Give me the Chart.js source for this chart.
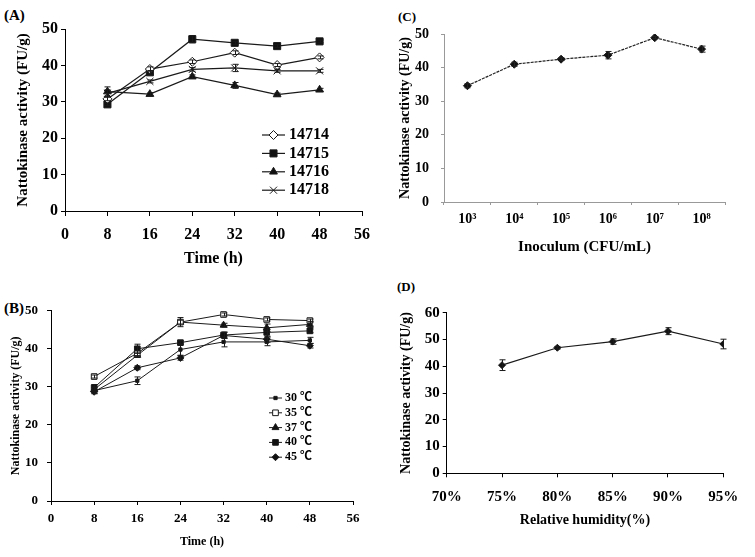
<!DOCTYPE html>
<html><head><meta charset="utf-8">
<script src="https://cdn.jsdelivr.net/npm/chart.js@4.4.1/dist/chart.umd.min.js"></script>
<style>
html,body{margin:0;padding:0;background:#fff;width:755px;height:557px;overflow:hidden;position:relative;}
canvas{position:absolute;}
.lbl{position:absolute;font-family:'Liberation Serif','Times New Roman',serif;font-weight:bold;color:#000;line-height:1;white-space:nowrap;}
</style></head><body>
<div class="lbl" style="left:4px;top:8px;font-size:15px">(A)</div>
<div class="lbl" style="left:398px;top:10px;font-size:13px">(C)</div>
<div class="lbl" style="left:4px;top:301px;font-size:15px">(B)</div>
<div class="lbl" style="left:397px;top:280px;font-size:13px">(D)</div>
<canvas id="cA" width="380" height="270" style="left:0;top:0"></canvas>
<canvas id="cC" width="375" height="270" style="left:380px;top:0"></canvas>
<canvas id="cB" width="380" height="287" style="left:0;top:270px"></canvas>
<canvas id="cD" width="375" height="287" style="left:380px;top:270px"></canvas>
<script>
// ---------- data ----------
const timeHours = [8, 16, 24, 32, 40, 48];

const strainNames = ['14714', '14715', '14716', '14718'];
const strain14714 = [30.8, 39.0, 41.0, 43.5, 40.1, 42.2];
const strain14715 = [29.3, 38.1, 47.2, 46.2, 45.3, 46.6];
const strain14716 = [32.8, 32.1, 36.9, 34.5, 32.0, 33.3];
const strain14718 = [32.3, 35.6, 38.9, 39.3, 38.5, 38.5];
const err14714 = [0.5, 0.6, 0.5, 0.5, 0.4, 0.4];
const err14715 = [0.4, 0.5, 1.0, 0.4, 0.4, 0.4];
const err14716 = [1.3, 0.4, 0.5, 0.8, 0.4, 0.4];
const err14718 = [1.0, 0.4, 0.5, 1.0, 0.4, 0.4];

const tempNames = ['30 ℃', '35 ℃', '37 ℃', '40 ℃', '45 ℃'];
const temp30 = [29.0, 31.6, 39.8, 41.8, 41.8, 42.2];
const temp35 = [32.7, 38.8, 47.0, 49.0, 47.7, 47.4];
const temp37 = [29.3, 38.3, 47.0, 46.2, 45.5, 46.4];
const temp40 = [29.8, 40.0, 41.6, 43.6, 44.3, 44.7];
const temp45 = [28.7, 35.0, 37.6, 43.5, 42.5, 40.8];
const errT30 = [0.8, 1.0, 1.5, 1.3, 1.0, 0.8];
const errT35 = [0.4, 0.6, 0.5, 0.4, 0.4, 0.4];
const errT37 = [0.6, 0.6, 1.2, 0.5, 1.0, 0.8];
const errT40 = [0.8, 1.2, 0.5, 0.8, 1.2, 0.5];
const errT45 = [0.5, 0.5, 0.6, 0.8, 0.8, 0.6];

const inoculumLabels = ['10³', '10⁴', '10⁵', '10⁶', '10⁷', '10⁸'];
const inoculumActivity = [34.6, 41.0, 42.5, 43.7, 48.9, 45.5];
const inoculumErr = [0.6, 0.6, 0.4, 1.1, 0.3, 0.9];

const humidity = [75, 80, 85, 90, 95];
const humidityActivity = [40.4, 46.9, 49.2, 53.1, 48.3];
const humidityErr = [2.0, 0.5, 1.0, 1.3, 1.8];

// ---------- helpers ----------
const SERIF = "'Liberation Serif','Times New Roman','Noto Sans CJK SC',serif";
Chart.defaults.font.family = SERIF;
Chart.defaults.font.weight = 'bold';
Chart.defaults.color = '#000';

function pts(xs, ys) { return xs.map((x, i) => ({ x: x, y: ys[i] })); }

function drawMarker(ctx, style, r, x, y, fill, stroke, bw) {
  ctx.save();
  ctx.lineWidth = bw || 1; ctx.fillStyle = fill; ctx.strokeStyle = stroke;
  ctx.beginPath();
  if (style === 'rect') {
    const s = r * Math.SQRT1_2;
    ctx.rect(x - s, y - s, 2 * s, 2 * s);
    ctx.fill(); ctx.stroke();
  } else if (style === 'rectRot') {
    ctx.moveTo(x - r, y); ctx.lineTo(x, y - r); ctx.lineTo(x + r, y); ctx.lineTo(x, y + r); ctx.closePath();
    ctx.fill(); ctx.stroke();
  } else if (style === 'triangle') {
    const a = Math.sin(Math.PI / 3) * r;
    ctx.moveTo(x, y - r); ctx.lineTo(x + a, y + r / 2); ctx.lineTo(x - a, y + r / 2); ctx.closePath();
    ctx.fill(); ctx.stroke();
  } else if (style === 'crossRot') {
    const d = Math.SQRT1_2 * r;
    ctx.moveTo(x - d, y - d); ctx.lineTo(x + d, y + d); ctx.moveTo(x - d, y + d); ctx.lineTo(x + d, y - d);
    ctx.stroke();
  } else {
    ctx.arc(x, y, r, 0, Math.PI * 2); ctx.fill(); ctx.stroke();
  }
  ctx.restore();
}

const errorBarPlugin = {
  id: 'errorBars',
  afterDatasetsDraw(chart, args, opts) {
    const ctx = chart.ctx, ys = chart.scales.y;
    const cap = (opts && opts.cap) || 3;
    chart.data.datasets.forEach((ds, di) => {
      if (!ds.errors) return;
      const meta = chart.getDatasetMeta(di);
      ctx.save();
      ctx.strokeStyle = ds.borderColor; ctx.lineWidth = 1;
      meta.data.forEach((pt, i) => {
        const raw = ds.data[i];
        const v = (typeof raw === 'object') ? raw.y : raw;
        const e = ds.errors[i];
        if (!e) return;
        const top = ys.getPixelForValue(v + e), bot = ys.getPixelForValue(v - e);
        const x = Math.round(pt.x) + 0.5;
        ctx.beginPath();
        ctx.moveTo(x, top); ctx.lineTo(x, bot);
        ctx.moveTo(x - cap, top); ctx.lineTo(x + cap, top);
        ctx.moveTo(x - cap, bot); ctx.lineTo(x + cap, bot);
        ctx.stroke();
      });
      ctx.restore();
    });
  }
};

const lineLegendPlugin = {
  id: 'lineLegend',
  afterDraw(chart, args, opts) {
    if (!opts || !opts.show) return;
    const ctx = chart.ctx;
    ctx.save();
    ctx.font = 'bold ' + opts.fontSize + 'px ' + SERIF;
    ctx.textBaseline = 'middle'; ctx.textAlign = 'left'; ctx.fillStyle = '#000';
    chart.data.datasets.forEach((ds, i) => {
      const y = opts.y + i * opts.dy;
      ctx.strokeStyle = ds.borderColor; ctx.lineWidth = ds.borderWidth;
      ctx.beginPath(); ctx.moveTo(opts.x, y); ctx.lineTo(opts.x + opts.len, y); ctx.stroke();
      drawMarker(ctx, ds.pointStyle, ds.pointRadius, opts.x + opts.len / 2, y, ds.pointBackgroundColor, ds.pointBorderColor, ds.pointBorderWidth);
      ctx.fillText(ds.label, opts.x + opts.len + opts.gap, y);
    });
    ctx.restore();
  }
};

function ds(label, xs, ys, errs, style, r, fill, extra) {
  return Object.assign({
    label: label, data: xs ? pts(xs, ys) : ys, errors: errs,
    borderColor: '#1a1a1a', borderWidth: 1.2,
    pointStyle: style, pointRadius: r, pointBackgroundColor: fill,
    pointBorderColor: '#1a1a1a', pointBorderWidth: 1, pointHoverRadius: r,
    tension: 0, fill: false
  }, extra || {});
}

function axis(o) {
  const ticks = { font: { size: o.tickSize }, padding: o.tickPad, autoSkip: false, maxRotation: 0 };
  if (o.step !== undefined) ticks.stepSize = o.step;
  if (o.cb) ticks.callback = o.cb;
  const a = {
    type: o.type || 'linear',
    offset: !!o.offset,
    ticks: ticks,
    grid: { drawOnChartArea: false, drawTicks: true, tickLength: o.tickLen, color: o.color, offset: !!o.offset, lineWidth: 1 },
    border: { display: true, color: o.color, width: 1 },
    title: { display: true, text: o.title, font: { size: o.titleSize }, padding: o.titlePad, color: '#000' },
    afterFit: o.fit
  };
  if (o.min !== undefined) a.min = o.min;
  if (o.max !== undefined) a.max = o.max;
  return a;
}

const common = (pad, legendOpts, xAxis, yAxis) => ({
  responsive: false, animation: false, maintainAspectRatio: false,
  layout: { padding: pad },
  plugins: { legend: { display: false }, tooltip: { enabled: false }, lineLegend: legendOpts || { show: false }, errorBars: { cap: 3 } },
  scales: { x: xAxis, y: yAxis }
});

// ---------- Panel A ----------
new Chart(document.getElementById('cA'), {
  type: 'line',
  data: { datasets: [
    ds(strainNames[0], timeHours, strain14714, err14714, 'rectRot', 4.5, '#fff'),
    ds(strainNames[1], timeHours, strain14715, err14715, 'rect', 5, '#111'),
    ds(strainNames[2], timeHours, strain14716, err14716, 'triangle', 4.5, '#111'),
    ds(strainNames[3], timeHours, strain14718, err14718, 'crossRot', 5, '#111')
  ]},
  options: common({ left: 0, top: 29, right: 18, bottom: 0 },
    { show: true, x: 262, y: 135, dy: 18.4, len: 23, gap: 4, fontSize: 16 },
    axis({ min: 0, max: 56, step: 8, tickSize: 16, tickPad: 9, tickLen: 5, color: '#000', title: 'Time (h)', titleSize: 16, titlePad: { top: 0, bottom: 2 }, fit: s => { s.height = 59; } }),
    axis({ min: 0, max: 50, step: 10, tickSize: 16, tickPad: 3, tickLen: 4, color: '#000', title: 'Nattokinase activity (FU/g)', titleSize: 15, titlePad: { top: 14, bottom: 0 }, fit: s => { s.width = 65; } })
  ),
  plugins: [errorBarPlugin, lineLegendPlugin]
});

// ---------- Panel B ----------
new Chart(document.getElementById('cB'), {
  type: 'line',
  data: { datasets: [
    ds(tempNames[0], timeHours, temp30, errT30, 'rect', 2.3, '#111', { borderWidth: 1 }),
    ds(tempNames[1], timeHours, temp35, errT35, 'rect', 4, '#fff', { borderWidth: 1 }),
    ds(tempNames[2], timeHours, temp37, errT37, 'triangle', 4, '#111', { borderWidth: 1 }),
    ds(tempNames[3], timeHours, temp40, errT40, 'rect', 4, '#111', { borderWidth: 1 }),
    ds(tempNames[4], timeHours, temp45, errT45, 'rectRot', 3.5, '#111', { borderWidth: 1 })
  ]},
  options: common({ left: 0, top: 40.7, right: 27, bottom: 0 },
    { show: true, x: 269, y: 128, dy: 14.8, len: 13, gap: 3, fontSize: 12 },
    axis({ min: 0, max: 56, step: 8, tickSize: 13, tickPad: 6, tickLen: 4, color: '#000', title: 'Time (h)', titleSize: 12, titlePad: { top: 0, bottom: 8 }, fit: s => { s.height = 56; } }),
    axis({ min: 0, max: 50, step: 10, tickSize: 13, tickPad: 9, tickLen: 4, color: '#000', title: 'Nattokinase activity (FU/g)', titleSize: 12, titlePad: { top: 9, bottom: 0 }, fit: s => { s.width = 51; } })
  ),
  plugins: [errorBarPlugin, lineLegendPlugin]
});

// ---------- Panel C ----------
new Chart(document.getElementById('cC'), {
  type: 'line',
  data: { labels: inoculumLabels, datasets: [
    ds('Inoculum', null, inoculumActivity, inoculumErr, 'rectRot', 4, '#111', { borderWidth: 1.2, borderDash: [3, 1], borderColor: '#222' })
  ]},
  options: common({ left: 0, top: 34, right: 30, bottom: 0 },
    null,
    axis({ type: 'category', offset: true, tickSize: 14, tickPad: 6, tickLen: 3, color: '#999', title: 'Inoculum (CFU/mL)', titleSize: 15, titlePad: { top: 0, bottom: 14 }, fit: s => { s.height = 68; } }),
    axis({ min: 0, max: 50, step: 10, tickSize: 14, tickPad: 12, tickLen: 3, color: '#999', title: 'Nattokinase activity (FU/g)', titleSize: 14, titlePad: { top: 17, bottom: 0 }, fit: s => { s.width = 64; } })
  ),
  plugins: [errorBarPlugin]
});

// ---------- Panel D ----------
new Chart(document.getElementById('cD'), {
  type: 'line',
  data: { datasets: [
    ds('Relative humidity', humidity, humidityActivity, humidityErr, 'rectRot', 3.5, '#111', { borderWidth: 1.2 })
  ]},
  options: common({ left: 0, top: 42.7, right: 31.7, bottom: 0 },
    null,
    axis({ min: 70, max: 95, step: 5, tickSize: 15, tickPad: 11, tickLen: 4, color: '#000', title: 'Relative humidity(%)', titleSize: 14, titlePad: { top: 0, bottom: 28 }, cb: v => v + '%', fit: s => { s.height = 83.7; } }),
    axis({ min: 0, max: 60, step: 10, tickSize: 15, tickPad: 3, tickLen: 4, color: '#000', title: 'Nattokinase activity (FU/g)', titleSize: 14, titlePad: { top: 18, bottom: 0 }, fit: s => { s.width = 66.7; } })
  ),
  plugins: [errorBarPlugin]
});
</script>
</body></html>
